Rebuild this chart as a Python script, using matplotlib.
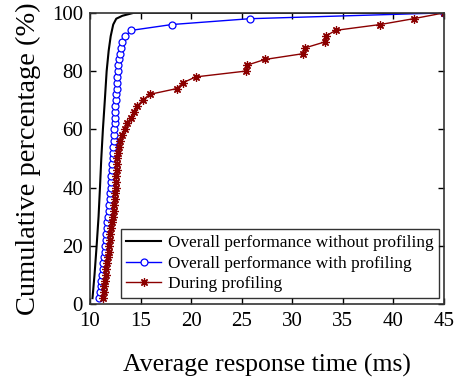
import numpy as np
import matplotlib
matplotlib.use("Agg")
import matplotlib.pyplot as plt

plt.rcParams['font.family'] = ['Liberation Serif', 'DejaVu Serif']

# cumulative percentages (2% steps)
pct = list(range(2, 101, 2))

# overall performance with profiling (ms)
with_prof = [10.90, 10.98, 11.05, 11.12, 11.18, 11.25, 11.32, 11.38, 11.44, 11.50,
             11.55, 11.60, 11.66, 11.72, 11.78, 11.84, 11.90, 11.95, 12.00, 12.04,
             12.08, 12.12, 12.16, 12.20, 12.24, 12.28, 12.31, 12.34, 12.37, 12.40,
             12.43, 12.46, 12.49, 12.52, 12.55, 12.59, 12.63, 12.67, 12.72, 12.77,
             12.82, 12.88, 12.95, 13.05, 13.18, 13.45, 14.10, 18.10, 25.80, 45.00]

# during profiling (ms)
during_prof = [11.30, 11.36, 11.42, 11.50, 11.56, 11.63, 11.70, 11.78, 11.85, 11.91,
               11.97, 12.03, 12.10, 12.18, 12.26, 12.33, 12.40, 12.46, 12.50, 12.54,
               12.58, 12.62, 12.65, 12.68, 12.71, 12.76, 12.85, 13.00, 13.20, 13.45,
               13.70, 14.10, 14.40, 14.70, 15.20, 15.90, 18.60, 19.20, 20.45, 25.40,
               25.50, 27.30, 31.10, 31.30, 33.20, 33.30, 34.30, 38.70, 42.00, 45.00]

# overall performance without profiling
no_prof_pct = [2, 10, 20, 30, 40, 50, 60, 70, 80, 87, 92, 96, 98, 99, 100, 100]
no_prof_x = [10.25, 10.45, 10.66, 10.85, 10.99, 11.12, 11.28, 11.47, 11.65, 11.85,
             12.05, 12.30, 12.60, 13.20, 14.30, 45.00]

fig = plt.figure(figsize=(4.59, 3.79), dpi=100)
ax = fig.add_axes([0.196, 0.198, 0.771, 0.768])

ax.plot(no_prof_x, no_prof_pct, color='black', linewidth=1.5,
        label='Overall performance without profiling')
ax.plot(with_prof, pct, color='blue', linewidth=1, marker='o', markersize=5,
        markerfacecolor='white', markeredgecolor='blue', markeredgewidth=0.9,
        label='Overall performance with profiling')
ax.plot(during_prof, pct, color='#8b0000', linewidth=1, marker=(8, 2, 0), markersize=6,
        markeredgewidth=0.9, label='During profiling')

ax.set_xlim(10, 45)
ax.set_ylim(0, 100)
ax.set_xticks(np.arange(10, 46, 5))
ax.set_yticks(np.arange(0, 101, 20))
ax.tick_params(direction='in', top=True, right=True, labelsize=15, length=4, width=1)
ax.tick_params(axis='x', pad=6)
ax.tick_params(axis='y', pad=5)
for s in ax.spines.values():
    s.set_linewidth(1.2)
    s.set_color('#333333')

ax.set_xlabel('Average response time (ms)', fontsize=18.5, labelpad=16)
ax.set_ylabel('Cumulative percentage (%)', fontsize=20.5, labelpad=8)

leg = ax.legend(loc='lower right', fontsize=12.4, frameon=True, fancybox=False,
                borderpad=0.3, labelspacing=0.28, handlelength=2.0,
                handletextpad=0.4, borderaxespad=0.2, bbox_to_anchor=(0.995, 0.01))
leg.get_frame().set_edgecolor('black')
leg.get_frame().set_linewidth(1)

fig.savefig('out.png', dpi=100)
